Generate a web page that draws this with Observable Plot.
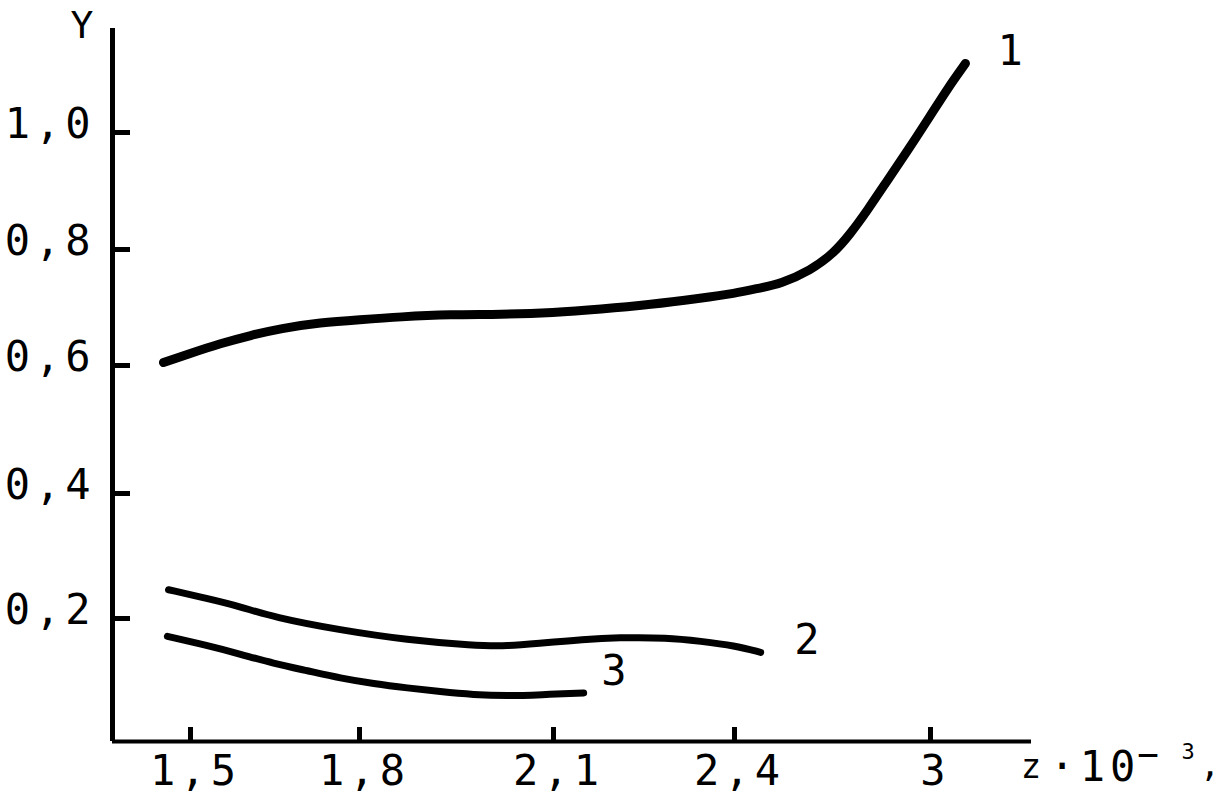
<!DOCTYPE html>
<html>
<head>
<meta charset="utf-8">
<script src="https://cdn.jsdelivr.net/npm/d3@7"></script>
<script src="https://cdn.jsdelivr.net/npm/@observablehq/plot@0.6"></script>
<style>
  html, body { margin: 0; padding: 0; background: #fff; }
  #chart svg text { letter-spacing: 5px; }
</style>
</head>
<body>
<div id="chart"></div>
<script>
// ---- data ----
const xTicks = [1.5, 1.8, 2.1, 2.4, 3];
const xTickLabels = ["1,5", "1,8", "2,1", "2,4", "3"];
const yTicks = [0.2, 0.4, 0.6, 0.8, 1.0];
const yTickLabels = ["0,2", "0,4", "0,6", "0,8", "1,0"];

const curve1X = [1.452, 1.5, 1.553, 1.607, 1.660, 1.731, 1.8, 1.863, 1.941, 2.018, 2.1, 2.178, 2.261, 2.344, 2.4, 2.480, 2.541, 2.633, 2.703, 2.755, 2.807, 2.868, 2.930, 3.0, 3.052, 3.107];
const curve1Y = [0.605, 0.621, 0.638, 0.652, 0.664, 0.674, 0.679, 0.684, 0.688, 0.688, 0.691, 0.697, 0.705, 0.716, 0.724, 0.734, 0.741, 0.764, 0.793, 0.827, 0.867, 0.918, 0.969, 1.029, 1.075, 1.118];

const curve2X = [1.461, 1.530, 1.589, 1.647, 1.766, 1.874, 1.976, 2.029, 2.080, 2.150, 2.206, 2.289, 2.344, 2.4, 2.480];
const curve2Y = [0.246, 0.232, 0.219, 0.202, 0.181, 0.165, 0.156, 0.155, 0.160, 0.166, 0.169, 0.169, 0.163, 0.156, 0.145];

const curve3X = [1.459, 1.530, 1.589, 1.647, 1.708, 1.766, 1.822, 1.874, 1.925, 1.976, 2.029, 2.080, 2.150];
const curve3Y = [0.171, 0.156, 0.142, 0.127, 0.115, 0.103, 0.094, 0.087, 0.081, 0.076, 0.074, 0.076, 0.079];

const curveNames = ["1", "2", "3"];
const curveLabelX = [3.245, 2.623, 2.201];
const curveLabelY = [1.138, 0.1645, 0.1145];

const yTitle = "Y";
const xTitleVar = "z";
const xTitleMain = "·10";
const xTitleSup = ["−", "3"];
const xTitleTail = ",";

// ---- build tables ----
const toRows = (name, xs, ys) => xs.map((x, i) => ({name, x, y: ys[i]}));
const rows1 = toRows("1", curve1X, curve1Y);
const rows2 = toRows("2", curve2X, curve2Y);
const rows3 = toRows("3", curve3X, curve3Y);
const labels = curveNames.map((n, i) => ({name: n, x: curveLabelX[i], y: curveLabelY[i]}));

const FONT = "DejaVu Sans Mono";
const FS = 42;

// The original axes are not evenly graduated: warp them piecewise-linearly
const xWarp = d3.scaleLinear().domain([1.5, 1.8, 2.1, 2.4, 3]).range([78, 247, 441, 622, 818]);
const yWarp = d3.scaleLinear().domain([0, 0.2, 0.4, 0.6, 0.8, 1.0]).range([0, 123, 248, 376, 492, 609]);
const xMin = xWarp.invert(0);
const yMax = yWarp.invert(713);

const labX = d => xTickLabels[xTicks.findIndex(t => t === d || xWarp(t) === d)];
const labY = d => yTickLabels[yTicks.findIndex(t => t === d || yWarp(t) === d)];

const title = (txt, dx, dy, fs, anchor) =>
  Plot.text([txt], {frameAnchor: "bottom-right", lineAnchor: "middle", dx, dy, fontSize: fs, fill: "#000", textAnchor: anchor});

const chart = Plot.plot({
  width: 1226,
  height: 796,
  marginLeft: 112,
  marginRight: 195,
  marginTop: 28,
  marginBottom: 55,
  style: {fontFamily: FONT, fontSize: FS + "px", color: "#000", background: "#fff"},
  x: {type: "linear", transform: xWarp, domain: [0, 919], axis: null},
  y: {type: "linear", transform: yWarp, domain: [0, 713], axis: null},
  marks: [
    // axis lines
    Plot.ruleX([xMin], {y1: 0, y2: yMax, stroke: "#000", strokeWidth: 5}),
    Plot.ruleY([0], {stroke: "#000", strokeWidth: 4}),
    // inward ticks
    Plot.axisX(xTicks, {anchor: "bottom", tickSize: -14, strokeWidth: 5, tickFormat: () => "", label: null}),
    Plot.axisY(yTicks, {anchor: "left", tickSize: -18, strokeWidth: 5, tickFormat: () => "", label: null}),
    // tick labels
    Plot.axisX(xTicks, {anchor: "bottom", tickSize: 0, tickPadding: 14, dx: 5, fontSize: FS, fill: "#000",
      tickFormat: labX, label: null}),
    Plot.axisY(yTicks, {anchor: "left", tickSize: 0, tickPadding: 17, dy: -8, fontSize: FS, fill: "#000",
      tickFormat: labY, label: null}),
    // curves
    Plot.line(rows1, {x: "x", y: "y", stroke: "#000", strokeWidth: 9, curve: "basis", strokeLinecap: "round"}),
    Plot.line(rows2, {x: "x", y: "y", stroke: "#000", strokeWidth: 7, curve: "basis", strokeLinecap: "round"}),
    Plot.line(rows3, {x: "x", y: "y", stroke: "#000", strokeWidth: 7, curve: "basis", strokeLinecap: "round"}),
    // curve labels
    Plot.text(labels, {x: "x", y: "y", text: "name", fontSize: FS, fill: "#000", textAnchor: "middle", dx: 2}),
    // axis titles
    Plot.text([yTitle], {frameAnchor: "top-left", lineAnchor: "middle", dx: -28, dy: -3, fontSize: 38, fill: "#000", textAnchor: "middle"}),
    title(xTitleVar, 2, 26, 34, "middle"),
    title(xTitleMain, 18, 26, FS, "start"),
    title(xTitleSup[0], 119, 14, 36, "middle"),
    title(xTitleSup[1], 159, 10, 22, "middle"),
    title(xTitleTail, 181, 24, 34, "middle")
  ]
});
document.getElementById("chart").appendChild(chart);
</script>
</body>
</html>
